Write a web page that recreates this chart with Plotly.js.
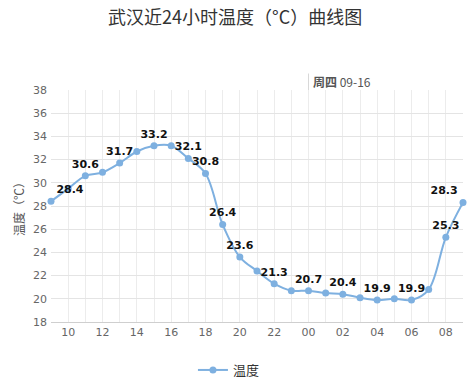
<!DOCTYPE html>
<html>
<head>
<meta charset="utf-8">
<script src="https://cdn.plot.ly/plotly-3.0.1.min.js"></script>
<style>html,body{margin:0;padding:0;background:#fff;}#chart{width:474px;height:388px;}</style>
</head>
<body>
<div id="chart"></div>
<script>
// Hours (last 24h, 09:00 to 09:00 next day)
var hours = ["09","10","11","12","13","14","15","16","17","18","19","20","21","22","23",
             "00","01","02","03","04","05","06","07","08","09"];
// Temperature values (°C)
var temps = [28.4,29.5,30.6,30.9,31.7,32.7,33.2,33.2,32.1,30.8,26.4,23.6,22.4,21.3,20.7,
             20.7,20.5,20.4,20.1,19.9,20.0,19.9,20.8,25.3,28.3];
// Which points show a value label
var showLabel = [1,0,1,0,1,0,1,0,1,1,1,1,0,1,0,1,0,1,0,1,0,1,0,1,1];
var dayLabel = "<b>周四</b> 09-16";
var dayIndex = 15;

var idx = hours.map(function(h,i){return i;});
var labels = temps.map(function(v,i){return showLabel[i] ? v.toFixed(1) : "";});
var textpos = temps.map(function(v,i){
  if(i===0) return "top right";
  if(i===temps.length-1) return "top left";
  return "top center";
});
var ticktext = hours.map(function(h,i){return (i%2===1) ? h : "";});

var trace = {
  x: idx, y: temps, name: "温度",
  type: "scatter", mode: "lines+markers+text",
  line: {color: "#7eb0e0", width: 2, shape: "spline", smoothing: 1},
  marker: {color: "#7eb0e0", size: 7},
  text: labels, textposition: textpos,
  textfont: {family: "DejaVu Sans, Noto Sans CJK SC", size: 11, color: "#111", weight: "bold"},
  cliponaxis: false, hoverinfo: "skip", showlegend: true
};

var layout = {
  width: 474, height: 388,
  margin: {l: 51, r: 11, t: 89.5, b: 66.3},
  paper_bgcolor: "#fff", plot_bgcolor: "#fff",
  showlegend: true,
  title: {text: "武汉近24小时温度（°C）曲线图", x: 0.496, xref: "container", xanchor: "center",
          y: 1 - 18/388, yref: "container", yanchor: "middle",
          font: {family: "Noto Sans CJK SC", size: 18, color: "#333"}},
  xaxis: {range: [0, 24], tickvals: idx, ticktext: ticktext, showgrid: true, gridcolor: "#ececec",
          gridwidth: 1, zeroline: false, showline: true, linecolor: "#cfcfcf", ticks: "",
          tickfont: {family: "DejaVu Sans, Noto Sans CJK SC", size: 11, color: "#666"}, fixedrange: true},
  yaxis: {range: [18, 38], dtick: 2, showgrid: true, gridcolor: "#e4e4e4", zeroline: false,
          showline: false, ticks: "", ticklabelstandoff: 3,
          tickfont: {family: "DejaVu Sans, Noto Sans CJK SC", size: 11, color: "#666"}, fixedrange: true},
  legend: {orientation: "h", x: 0.483, xanchor: "center", xref: "container",
           y: 18/388, yref: "container", yanchor: "middle",
           font: {family: "Noto Sans CJK SC", size: 13, color: "#333"}, itemwidth: 30},
  shapes: [{type: "line", xref: "x", yref: "paper", x0: dayIndex, x1: dayIndex, y0: 1, y1: 1.071,
            line: {color: "#d8d8d8", width: 1}}],
  annotations: [
    {text: dayLabel, xref: "x", yref: "paper", x: dayIndex, y: 1.038, xanchor: "left", yanchor: "middle",
     xshift: 2, showarrow: false, font: {family: "Noto Sans CJK SC", size: 12, color: "#555"}},
    {text: "温度（℃）", xref: "paper", yref: "paper", x: 0, y: 0.5, xshift: -33, textangle: -90,
     xanchor: "center", yanchor: "middle", showarrow: false,
     font: {family: "Noto Sans CJK SC", size: 12, color: "#555"}}
  ]
};

Plotly.newPlot("chart", [trace], layout, {displayModeBar: false, staticPlot: true});
</script>
</body>
</html>
